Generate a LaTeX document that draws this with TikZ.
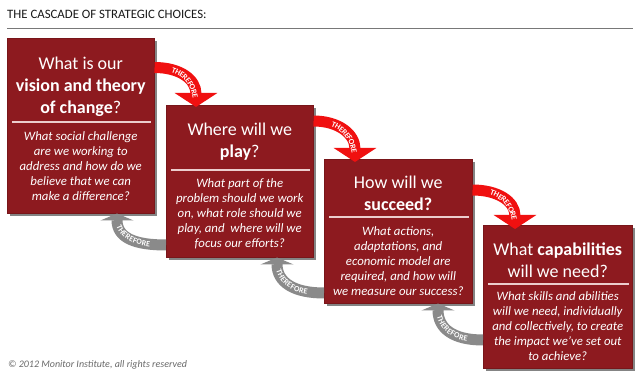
\documentclass[tikz,border=0pt]{standalone}
\usepackage{fontspec}
\setmainfont{Carlito}
\usetikzlibrary{arrows.meta,decorations.text,shadows,calc}
\definecolor{boxred}{RGB}{141,26,31}
\definecolor{arrred}{RGB}{240,16,16}
\definecolor{arrgray}{RGB}{138,138,138}
\definecolor{divline}{RGB}{236,205,205}
\definecolor{rulegray}{RGB}{120,120,120}
\definecolor{copygray}{RGB}{105,105,105}
\newcommand{\thfont}{\fontsize{8}{9}\selectfont\bfseries}
\begin{document}
\begin{tikzpicture}[x=1pt,y=-1pt,
  stagebox/.style={fill=boxred, draw=boxred!85!black, line width=0.5pt, inner sep=0, anchor=north west,
    drop shadow={shadow xshift=2.5pt,shadow yshift=-2.5pt,opacity=0.6,fill=black!80}},
  heading/.style={text=white, font=\fontsize{18}{22}\selectfont, align=center, inner sep=0, anchor=north},
  body/.style={text=white, font=\itshape\fontsize{12.8}{15}\selectfont, align=center, inner sep=0, anchor=north},
  divider/.style={draw=divline, line width=1.5pt},
  redarrow/.style={draw=arrred, line width=11pt, -{Triangle[width=42pt,length=14pt]}},
  grayarrow/.style={draw=arrgray, line width=11pt, -{Triangle[width=33pt,length=7pt]}},
  thred/.style={decorate, decoration={text along path, text={|\thfont\color{white}|THEREFORE}, text align={right, right indent=9pt}, raise=-2.6pt}},
  thgray/.style={decorate, decoration={text along path, text={|\thfont\color{white}|THEREFORE}, text align={left, left indent=12pt}, raise=-2.6pt}},
]
\useasboundingbox[fill=white] (0,0) rectangle (640,379);

% title and rule
\node[anchor=base west, inner sep=0, font=\fontsize{12.8}{14}\selectfont, text=black!90] (title) at (7,19) {THE CASCADE OF STRATEGIC CHOICES:};
\draw[rulegray, line width=0.8pt] (7,28) -- (633,28);

% boxes
\node[stagebox, minimum width=147pt, minimum height=175pt] (B1) at (7,38) {};
\node[stagebox, minimum width=147pt, minimum height=152pt] (B2) at (166,105) {};
\node[stagebox, minimum width=148pt, minimum height=144pt] (B3) at (324,159) {};
\node[stagebox, minimum width=149pt, minimum height=143pt] (B4) at (483,225) {};

% box 1
\node[heading] (H1) at ($(B1.north)+(0,18.4)$) {What is our\\\textbf{vision and theory}\\\textbf{of change}?};
\draw[divider] ($(B1.north west)+(5,84)$) -- ($(B1.north east)+(-4,84)$);
\node[body] (T1) at ($(B1.north)+(0,93)$) {What social challenge\\are we working to\\address and how do we\\believe that we can\\make a difference?};

% box 2
\node[heading] (H2) at ($(B2.north)+(0,17.4)$) {Where will we\\\textbf{play}?};
\draw[divider] ($(B2.north west)+(5,65)$) -- ($(B2.north east)+(-4,65)$);
\node[body] (T2) at ($(B2.north)+(0,73)$) {What part of the\\problem should we work\\on, what role should we\\play, and\ \ where will we\\focus our efforts?};

% box 3
\node[heading] (H3) at ($(B3.north)+(0,16.4)$) {How will we\\\textbf{succeed?}};
\draw[divider] ($(B3.north west)+(5,58)$) -- ($(B3.north east)+(-4,58)$);
\node[body] (T3) at ($(B3.north)+(0,67)$) {What actions,\\adaptations, and\\economic model are\\required, and how will\\we measure our success?};

% box 4
\node[heading] (H4) at ($(B4.north)+(0,17.4)$) {What \textbf{capabilities}\\will we need?};
\draw[divider] ($(B4.north west)+(5,59)$) -- ($(B4.north east)+(-4,59)$);
\node[body] (T4) at ($(B4.north)+(0,66)$) {What skills and abilities\\will we need, individually\\and collectively, to create\\the impact we’ve set out\\to achieve?};

% red arrows
\coordinate (r1s) at ($(B1.north east)+(0,29.5)$);
\coordinate (r1e) at ($(B2.north west)+(30,2)$);
\coordinate (r2s) at ($(B2.north east)+(0,16)$);
\coordinate (r2e) at ($(B3.north west)+(31,3)$);
\coordinate (r3s) at ($(B3.north east)+(0,31)$);
\coordinate (r3e) at ($(B4.north west)+(32,4)$);
\foreach \s/\e in {r1s/r1e, r2s/r2e, r3s/r3e}{
  \draw[redarrow] (\s) .. controls +(25,0) and +(0,-28) .. (\e);
  \path[thred] (\s) .. controls +(25,0) and +(0,-28) .. (\e);
}

% gray arrows
\coordinate (g1s) at ($(B2.north west)+(0,140)$);
\coordinate (g1e) at ($(B1.south west)+(110,0)$);
\coordinate (g2s) at ($(B3.north west)+(0,134)$);
\coordinate (g2e) at ($(B2.south west)+(111,0)$);
\coordinate (g3s) at ($(B4.north west)+(0,115)$);
\coordinate (g3e) at ($(B3.south west)+(114,0)$);
\foreach \s/\e in {g1s/g1e, g2s/g2e, g3s/g3e}{
  \draw[grayarrow] (\s) .. controls +(-30,0) and +(0,25) .. (\e);
  \path[thgray] (\e) .. controls +(0,25) and +(-30,0) .. (\s);
}

% copyright
\node[anchor=base west, inner sep=0, font=\itshape\fontsize{10}{12}\selectfont, text=copygray] (copy) at (8,367) {© 2012 Monitor Institute, all rights reserved};
\end{tikzpicture}
\end{document}
